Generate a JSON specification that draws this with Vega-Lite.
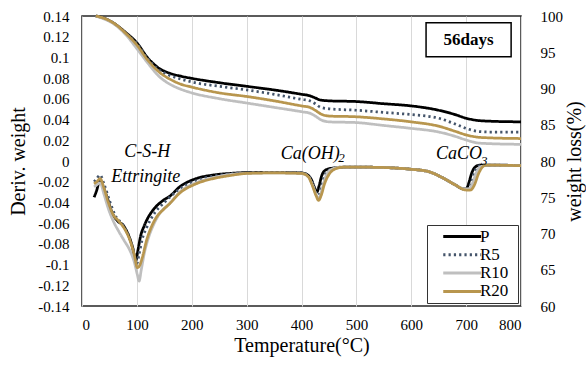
{
  "$schema": "https://vega.github.io/schema/vega-lite/v6.json",
  "width": 439,
  "height": 290,
  "autosize": {"type": "none"},
  "padding": {"left": 82, "top": 16, "right": 65, "bottom": 60},
  "background": "white",
  "datasets": {
    "dtg": [
      {"T":22,"s":"P","v":-0.035},{"T":27,"s":"P","v":-0.028},{"T":32,"s":"P","v":-0.019},{"T":38,"s":"P","v":-0.024},{"T":45,"s":"P","v":-0.034},{"T":55,"s":"P","v":-0.05},{"T":65,"s":"P","v":-0.058},{"T":75,"s":"P","v":-0.062},{"T":85,"s":"P","v":-0.072},{"T":92,"s":"P","v":-0.083},{"T":98,"s":"P","v":-0.096},{"T":102,"s":"P","v":-0.086},{"T":107,"s":"P","v":-0.072},{"T":113,"s":"P","v":-0.063},{"T":120,"s":"P","v":-0.055},{"T":130,"s":"P","v":-0.047},{"T":148,"s":"P","v":-0.038},{"T":160,"s":"P","v":-0.034},{"T":178,"s":"P","v":-0.025},{"T":208,"s":"P","v":-0.017},{"T":240,"s":"P","v":-0.0135},{"T":270,"s":"P","v":-0.012},{"T":300,"s":"P","v":-0.0112},{"T":350,"s":"P","v":-0.011},{"T":400,"s":"P","v":-0.0115},{"T":410,"s":"P","v":-0.013},{"T":418,"s":"P","v":-0.018},{"T":424,"s":"P","v":-0.026},{"T":428,"s":"P","v":-0.03},{"T":432,"s":"P","v":-0.024},{"T":437,"s":"P","v":-0.014},{"T":443,"s":"P","v":-0.009},{"T":455,"s":"P","v":-0.007},{"T":480,"s":"P","v":-0.006},{"T":520,"s":"P","v":-0.006},{"T":560,"s":"P","v":-0.0065},{"T":600,"s":"P","v":-0.008},{"T":630,"s":"P","v":-0.01},{"T":660,"s":"P","v":-0.017},{"T":680,"s":"P","v":-0.023},{"T":695,"s":"P","v":-0.027},{"T":700,"s":"P","v":-0.027},{"T":705,"s":"P","v":-0.021},{"T":710,"s":"P","v":-0.012},{"T":716,"s":"P","v":-0.006},{"T":725,"s":"P","v":-0.004},{"T":760,"s":"P","v":-0.004},{"T":800,"s":"P","v":-0.0045},
      {"T":22,"s":"R5","v":-0.02},{"T":27,"s":"R5","v":-0.017},{"T":33,"s":"R5","v":-0.0135},{"T":40,"s":"R5","v":-0.022},{"T":50,"s":"R5","v":-0.038},{"T":60,"s":"R5","v":-0.052},{"T":75,"s":"R5","v":-0.062},{"T":85,"s":"R5","v":-0.072},{"T":93,"s":"R5","v":-0.085},{"T":100,"s":"R5","v":-0.099},{"T":104,"s":"R5","v":-0.09},{"T":110,"s":"R5","v":-0.075},{"T":118,"s":"R5","v":-0.064},{"T":130,"s":"R5","v":-0.052},{"T":150,"s":"R5","v":-0.04},{"T":178,"s":"R5","v":-0.027},{"T":208,"s":"R5","v":-0.019},{"T":240,"s":"R5","v":-0.0145},{"T":300,"s":"R5","v":-0.0115},{"T":350,"s":"R5","v":-0.011},{"T":400,"s":"R5","v":-0.0115},{"T":412,"s":"R5","v":-0.014},{"T":420,"s":"R5","v":-0.021},{"T":427,"s":"R5","v":-0.031},{"T":431,"s":"R5","v":-0.033},{"T":436,"s":"R5","v":-0.025},{"T":442,"s":"R5","v":-0.014},{"T":450,"s":"R5","v":-0.009},{"T":470,"s":"R5","v":-0.006},{"T":520,"s":"R5","v":-0.006},{"T":560,"s":"R5","v":-0.0065},{"T":600,"s":"R5","v":-0.008},{"T":630,"s":"R5","v":-0.01},{"T":660,"s":"R5","v":-0.017},{"T":680,"s":"R5","v":-0.023},{"T":697,"s":"R5","v":-0.027},{"T":703,"s":"R5","v":-0.027},{"T":710,"s":"R5","v":-0.02},{"T":716,"s":"R5","v":-0.01},{"T":722,"s":"R5","v":-0.005},{"T":735,"s":"R5","v":-0.004},{"T":800,"s":"R5","v":-0.0045},
      {"T":22,"s":"R10","v":-0.025},{"T":27,"s":"R10","v":-0.023},{"T":33,"s":"R10","v":-0.021},{"T":40,"s":"R10","v":-0.032},{"T":48,"s":"R10","v":-0.046},{"T":57,"s":"R10","v":-0.058},{"T":67,"s":"R10","v":-0.068},{"T":77,"s":"R10","v":-0.077},{"T":87,"s":"R10","v":-0.086},{"T":95,"s":"R10","v":-0.097},{"T":101,"s":"R10","v":-0.11},{"T":104,"s":"R10","v":-0.116},{"T":108,"s":"R10","v":-0.105},{"T":114,"s":"R10","v":-0.088},{"T":120,"s":"R10","v":-0.076},{"T":130,"s":"R10","v":-0.062},{"T":140,"s":"R10","v":-0.052},{"T":160,"s":"R10","v":-0.041},{"T":178,"s":"R10","v":-0.03},{"T":208,"s":"R10","v":-0.021},{"T":240,"s":"R10","v":-0.016},{"T":270,"s":"R10","v":-0.013},{"T":300,"s":"R10","v":-0.012},{"T":350,"s":"R10","v":-0.0115},{"T":400,"s":"R10","v":-0.012},{"T":412,"s":"R10","v":-0.015},{"T":420,"s":"R10","v":-0.023},{"T":428,"s":"R10","v":-0.034},{"T":432,"s":"R10","v":-0.036},{"T":438,"s":"R10","v":-0.026},{"T":445,"s":"R10","v":-0.014},{"T":455,"s":"R10","v":-0.008},{"T":470,"s":"R10","v":-0.006},{"T":520,"s":"R10","v":-0.006},{"T":560,"s":"R10","v":-0.0065},{"T":600,"s":"R10","v":-0.008},{"T":630,"s":"R10","v":-0.01},{"T":660,"s":"R10","v":-0.017},{"T":680,"s":"R10","v":-0.023},{"T":698,"s":"R10","v":-0.027},{"T":705,"s":"R10","v":-0.027},{"T":712,"s":"R10","v":-0.021},{"T":718,"s":"R10","v":-0.012},{"T":725,"s":"R10","v":-0.006},{"T":738,"s":"R10","v":-0.004},{"T":800,"s":"R10","v":-0.0045},
      {"T":22,"s":"R20","v":-0.022},{"T":27,"s":"R20","v":-0.02},{"T":33,"s":"R20","v":-0.017},{"T":40,"s":"R20","v":-0.026},{"T":48,"s":"R20","v":-0.04},{"T":57,"s":"R20","v":-0.052},{"T":67,"s":"R20","v":-0.058},{"T":77,"s":"R20","v":-0.065},{"T":87,"s":"R20","v":-0.076},{"T":95,"s":"R20","v":-0.09},{"T":101,"s":"R20","v":-0.103},{"T":105,"s":"R20","v":-0.101},{"T":110,"s":"R20","v":-0.093},{"T":118,"s":"R20","v":-0.076},{"T":127,"s":"R20","v":-0.063},{"T":136,"s":"R20","v":-0.054},{"T":148,"s":"R20","v":-0.047},{"T":160,"s":"R20","v":-0.041},{"T":178,"s":"R20","v":-0.031},{"T":208,"s":"R20","v":-0.022},{"T":239,"s":"R20","v":-0.017},{"T":270,"s":"R20","v":-0.014},{"T":300,"s":"R20","v":-0.012},{"T":350,"s":"R20","v":-0.0115},{"T":400,"s":"R20","v":-0.012},{"T":412,"s":"R20","v":-0.015},{"T":420,"s":"R20","v":-0.024},{"T":427,"s":"R20","v":-0.034},{"T":431,"s":"R20","v":-0.038},{"T":436,"s":"R20","v":-0.033},{"T":442,"s":"R20","v":-0.022},{"T":450,"s":"R20","v":-0.013},{"T":460,"s":"R20","v":-0.008},{"T":475,"s":"R20","v":-0.006},{"T":520,"s":"R20","v":-0.006},{"T":560,"s":"R20","v":-0.0065},{"T":600,"s":"R20","v":-0.008},{"T":630,"s":"R20","v":-0.01},{"T":660,"s":"R20","v":-0.017},{"T":680,"s":"R20","v":-0.023},{"T":700,"s":"R20","v":-0.028},{"T":708,"s":"R20","v":-0.028},{"T":716,"s":"R20","v":-0.022},{"T":722,"s":"R20","v":-0.013},{"T":728,"s":"R20","v":-0.007},{"T":736,"s":"R20","v":-0.004},{"T":800,"s":"R20","v":-0.0045}
    ],
    "tg": [
      {"T":25,"s":"P","w":100},{"T":40,"s":"P","w":99.7},{"T":60,"s":"P","w":98.9},{"T":80,"s":"P","w":97.7},{"T":100,"s":"P","w":96.3},{"T":120,"s":"P","w":94.2},{"T":140,"s":"P","w":92.8},{"T":160,"s":"P","w":92.1},{"T":180,"s":"P","w":91.7},{"T":200,"s":"P","w":91.4},{"T":250,"s":"P","w":90.8},{"T":300,"s":"P","w":90.3},{"T":350,"s":"P","w":89.8},{"T":400,"s":"P","w":89.2},{"T":415,"s":"P","w":89.0},{"T":425,"s":"P","w":88.7},{"T":435,"s":"P","w":88.4},{"T":450,"s":"P","w":88.3},{"T":500,"s":"P","w":88.2},{"T":550,"s":"P","w":87.9},{"T":600,"s":"P","w":87.6},{"T":650,"s":"P","w":87.0},{"T":680,"s":"P","w":86.4},{"T":700,"s":"P","w":85.9},{"T":720,"s":"P","w":85.6},{"T":740,"s":"P","w":85.5},{"T":800,"s":"P","w":85.4},
      {"T":25,"s":"R5","w":100},{"T":40,"s":"R5","w":99.7},{"T":60,"s":"R5","w":98.9},{"T":80,"s":"R5","w":97.6},{"T":100,"s":"R5","w":96.2},{"T":120,"s":"R5","w":94.1},{"T":140,"s":"R5","w":92.6},{"T":160,"s":"R5","w":91.8},{"T":180,"s":"R5","w":91.3},{"T":200,"s":"R5","w":90.9},{"T":250,"s":"R5","w":90.3},{"T":300,"s":"R5","w":89.8},{"T":350,"s":"R5","w":89.2},{"T":400,"s":"R5","w":88.5},{"T":415,"s":"R5","w":88.3},{"T":425,"s":"R5","w":87.9},{"T":435,"s":"R5","w":87.4},{"T":450,"s":"R5","w":87.2},{"T":500,"s":"R5","w":87.0},{"T":550,"s":"R5","w":86.7},{"T":600,"s":"R5","w":86.4},{"T":650,"s":"R5","w":85.9},{"T":680,"s":"R5","w":85.1},{"T":700,"s":"R5","w":84.5},{"T":720,"s":"R5","w":84.1},{"T":740,"s":"R5","w":84.0},{"T":800,"s":"R5","w":84.0},
      {"T":25,"s":"R10","w":100},{"T":40,"s":"R10","w":99.6},{"T":60,"s":"R10","w":98.8},{"T":80,"s":"R10","w":97.4},{"T":100,"s":"R10","w":95.5},{"T":120,"s":"R10","w":93.5},{"T":140,"s":"R10","w":91.7},{"T":160,"s":"R10","w":90.6},{"T":180,"s":"R10","w":89.9},{"T":200,"s":"R10","w":89.4},{"T":250,"s":"R10","w":88.6},{"T":300,"s":"R10","w":88.0},{"T":350,"s":"R10","w":87.4},{"T":400,"s":"R10","w":86.8},{"T":415,"s":"R10","w":86.6},{"T":425,"s":"R10","w":86.2},{"T":435,"s":"R10","w":85.7},{"T":450,"s":"R10","w":85.4},{"T":500,"s":"R10","w":85.3},{"T":550,"s":"R10","w":84.9},{"T":600,"s":"R10","w":84.5},{"T":650,"s":"R10","w":84.0},{"T":680,"s":"R10","w":83.4},{"T":700,"s":"R10","w":82.9},{"T":720,"s":"R10","w":82.5},{"T":740,"s":"R10","w":82.4},{"T":800,"s":"R10","w":82.3},
      {"T":25,"s":"R20","w":100},{"T":40,"s":"R20","w":99.7},{"T":60,"s":"R20","w":98.9},{"T":80,"s":"R20","w":97.6},{"T":100,"s":"R20","w":96.0},{"T":120,"s":"R20","w":93.9},{"T":140,"s":"R20","w":92.3},{"T":160,"s":"R20","w":91.3},{"T":180,"s":"R20","w":90.6},{"T":200,"s":"R20","w":90.2},{"T":250,"s":"R20","w":89.4},{"T":300,"s":"R20","w":88.9},{"T":350,"s":"R20","w":88.3},{"T":400,"s":"R20","w":87.6},{"T":415,"s":"R20","w":87.4},{"T":425,"s":"R20","w":87.0},{"T":435,"s":"R20","w":86.5},{"T":450,"s":"R20","w":86.2},{"T":500,"s":"R20","w":86.1},{"T":550,"s":"R20","w":85.8},{"T":600,"s":"R20","w":85.4},{"T":650,"s":"R20","w":84.8},{"T":680,"s":"R20","w":84.1},{"T":700,"s":"R20","w":83.6},{"T":720,"s":"R20","w":83.3},{"T":740,"s":"R20","w":83.2},{"T":800,"s":"R20","w":83.1}
    ],
    "box": [{"T": 627, "T2": 782, "v": 0.1336, "v2": 0.1007}],
    "boxlabel": [{"T": 704.5, "v": 0.117, "label": "56days"}],
    "notes": [
      {"T": 118.7, "v": 0.0035, "label": "C-S-H"},
      {"T": 116, "v": -0.0205, "label": "Ettringite"},
      {"T": 416, "v": 0.0015, "label": "Ca(OH)"},
      {"T": 687, "v": 0.0015, "label": "CaCO"}
    ],
    "subs": [
      {"T": 473, "v": -0.001, "label": "2"},
      {"T": 733, "v": -0.004, "label": "3"}
    ]
  },
  "config": {
    "font": "Liberation Serif, Times New Roman, serif",
    "view": {"stroke": "#262626", "strokeWidth": 1.5},
    "axis": {
      "labelFont": "Liberation Serif, Times New Roman, serif", "titleFont": "Liberation Serif, Times New Roman, serif",
      "labelColor": "#000", "titleColor": "#000",
      "labelFontSize": 15, "titleFontSize": 20, "titleFontWeight": "normal",
      "ticks": false, "domain": false, "grid": false
    },
    "legend": {
      "orient": "bottom-right", "offset": 3.5,
      "labelFont": "Liberation Serif, Times New Roman, serif", "labelFontSize": 17, "labelColor": "#000",
      "titleOrient": "right", "titlePadding": 7, "titleFontSize": 17, "titleFont": "Liberation Serif, Times New Roman, serif",
      "symbolType": "M0.75,0H6.75", "symbolSize": 160, "symbolStrokeWidth": 3,
      "strokeColor": "#333", "fillColor": "white", "padding": 3, "rowPadding": 0.3, "labelOffset": 33
    }
  },
  "resolve": {"scale": {"y": "independent"}},
  "layer": [
    {
      "encoding": {
        "x": {"field": "T", "type": "quantitative", "scale": {"domain": [0, 800], "nice": false},
              "axis": {"values": [0,100,200,300,400,500,600,700,800], "grid": true, "gridColor": "#D9D9D9", "gridWidth": 1,
                       "title": "Temperature(°C)", "labelPadding": 11, "titlePadding": 3}},
        "y": {"field": "v", "type": "quantitative", "scale": {"domain": [-0.14, 0.14], "nice": false, "zero": false},
              "axis": {"orient": "left", "values": [-0.14,-0.12,-0.1,-0.08,-0.06,-0.04,-0.02,0,0.02,0.04,0.06,0.08,0.1,0.12,0.14],
                       "labelExpr": "'' + datum.value", "title": "Deriv. weight", "labelPadding": 13, "titlePadding": 9}}
      },
      "layer": [
        {
          "data": {"name": "dtg"},
          "mark": {"type": "line", "strokeWidth": 2.75, "interpolate": "monotone"},
          "encoding": {
            "color": {"field": "s", "type": "nominal", "title": "\u00a0",
                      "scale": {"domain": ["P","R5","R10","R20"], "range": ["#000000","#44546A","#BFBFBF","#B8964E"]}},
            "strokeDash": {"field": "s", "type": "nominal", "title": "\u00a0",
                           "scale": {"domain": ["P","R5","R10","R20"], "range": [[1,0],[2.2,3.1],[1,0],[1,0]]}}
          }
        },
        {
          "data": {"name": "box"},
          "mark": {"type": "rect", "fill": "white", "stroke": "#000", "strokeWidth": 1.5},
          "encoding": {"x2": {"field": "T2"}, "y2": {"field": "v2"}}
        },
        {
          "data": {"name": "boxlabel"},
          "mark": {"type": "text", "font": "Liberation Serif, Times New Roman, serif", "fontSize": 17, "fontWeight": "bold", "align": "center", "baseline": "middle", "color": "#000"},
          "encoding": {"text": {"field": "label"}}
        },
        {
          "data": {"name": "notes"},
          "mark": {"type": "text", "font": "Liberation Serif, Times New Roman, serif", "fontSize": 18, "fontStyle": "italic", "align": "center", "baseline": "alphabetic", "color": "#000"},
          "encoding": {"text": {"field": "label"}}
        },
        {
          "data": {"name": "subs"},
          "mark": {"type": "text", "font": "Liberation Serif, Times New Roman, serif", "fontSize": 13, "fontStyle": "italic", "align": "center", "baseline": "alphabetic", "color": "#000"},
          "encoding": {"text": {"field": "label"}}
        }
      ]
    },
    {
      "data": {"name": "tg"},
      "mark": {"type": "line", "strokeWidth": 2.75, "interpolate": "monotone"},
      "encoding": {
        "x": {"field": "T", "type": "quantitative", "scale": {"domain": [0, 800], "nice": false}},
        "y": {"field": "w", "type": "quantitative", "scale": {"domain": [60, 100], "nice": false, "zero": false},
              "axis": {"orient": "right", "values": [60,65,70,75,80,85,90,95,100], "title": "weight loss(%)", "titleAngle": 270,
                       "titleBaseline": "top", "labelAlign": "left", "labelPadding": 19, "titlePadding": 2}},
        "color": {"field": "s", "type": "nominal", "title": "\u00a0",
                  "scale": {"domain": ["P","R5","R10","R20"], "range": ["#000000","#44546A","#BFBFBF","#B8964E"]}},
        "strokeDash": {"field": "s", "type": "nominal", "title": "\u00a0",
                       "scale": {"domain": ["P","R5","R10","R20"], "range": [[1,0],[2.2,3.1],[1,0],[1,0]]}}
      }
    }
  ]
}
